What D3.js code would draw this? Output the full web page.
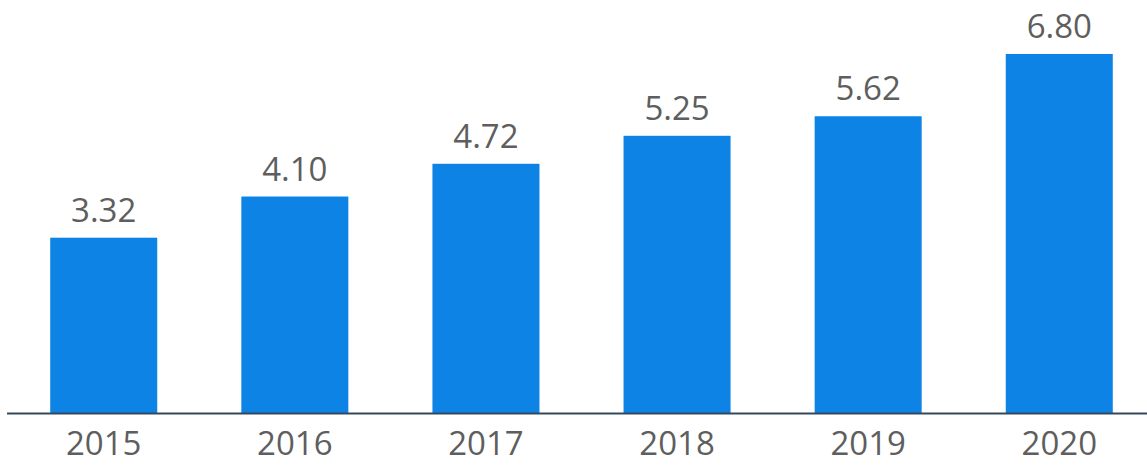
<!DOCTYPE html>
<html>
<head>
<meta charset="utf-8">
<script src="https://cdn.jsdelivr.net/npm/d3@7"></script>
<style>
  html, body { margin: 0; padding: 0; background: white; }
  text { font-family: "Open Sans", sans-serif; }
</style>
</head>
<body>
<div id="container"></div>
<script>
const years = ['2015', '2016', '2017', '2018', '2019', '2020']
const values = [3.32, 4.10, 4.72, 5.25, 5.62, 6.80]
const valueLabels = ['3.32', '4.10', '4.72', '5.25', '5.62', '6.80']

const w = 1147
const h = 465
const baseline = 413

const svg = d3.select('#container')
  .append('svg')
    .attr('width', w)
    .attr('height', h)
    .style('display', 'block')

const scaleX = d3.scaleBand()
  .domain(years)
  .range([12, 1151])
  .paddingInner(0.44)
  .paddingOuter(0.2)

const scaleY = d3.scaleLinear()
  .domain([0, 7])
  .range([baseline, baseline - 7 * 52.8])

svg.selectAll('rect.bar')
  .data(values)
  .enter()
  .append('rect')
    .attr('class', 'bar')
    .attr('x', (d, i) => scaleX(years[i]))
    .attr('width', scaleX.bandwidth())
    .attr('y', d => scaleY(d))
    .attr('height', d => baseline - scaleY(d))
    .attr('fill', '#0c83e5')

svg.selectAll('text.val')
  .data(values)
  .enter()
  .append('text')
    .attr('class', 'val')
    .attr('x', (d, i) => scaleX(years[i]) + scaleX.bandwidth() / 2)
    .attr('y', d => scaleY(d) - 16)
    .attr('text-anchor', 'middle')
    .attr('font-size', 33)
    .attr('fill', '#5e5e5e')
    .text((d, i) => valueLabels[i])

const axisX = d3.axisBottom(scaleX).tickSize(0).tickPadding(0)

const gx = svg.append('g')
  .attr('transform', `translate(0, ${baseline})`)
  .call(axisX)

gx.select('.domain').remove()
gx.selectAll('text')
  .attr('dy', null)
  .attr('y', 42)
  .attr('font-size', 33)
  .attr('font-family', '"Open Sans", sans-serif')
  .attr('fill', '#5e5e5e')

svg.append('line')
  .attr('x1', 7)
  .attr('x2', w)
  .attr('y1', baseline + 0.5)
  .attr('y2', baseline + 0.5)
  .attr('stroke', '#34495e')
  .attr('stroke-width', 2)
</script>
</body>
</html>
